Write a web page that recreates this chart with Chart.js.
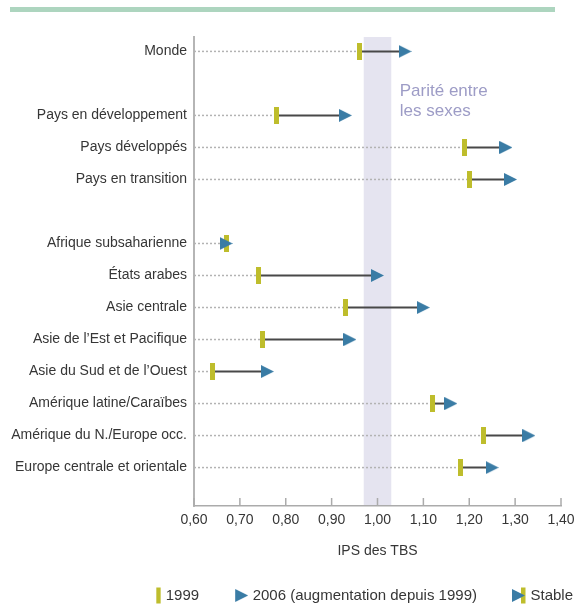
<!DOCTYPE html>
<html lang="fr">
<head>
<meta charset="utf-8">
<script src="https://cdn.jsdelivr.net/npm/chart.js@4.4.1/dist/chart.umd.min.js"></script>
<style>
  html, body { margin: 0; padding: 0; background: #fff; }
  #wrap { width: 576px; height: 606px; }
</style>
</head>
<body>
<div id="wrap"><canvas id="chart" width="576" height="606"></canvas></div>
<script>
// Rows of the chart (empty strings are spacer rows between the groups)
const regions = [
  'Monde', '',
  'Pays en développement', 'Pays développés', 'Pays en transition', '',
  'Afrique subsaharienne', 'États arabes', 'Asie centrale',
  'Asie de l’Est et Pacifique', 'Asie du Sud et de l’Ouest',
  'Amérique latine/Caraïbes', 'Amérique du N./Europe occ.',
  'Europe centrale et orientale'
];
// Gender parity index of gross enrolment ratios
const gpi1999 = [0.96, null, 0.78, 1.19, 1.20, null, 0.67, 0.74, 0.93, 0.75, 0.64, 1.12, 1.23, 1.18];
const gpi2006 = [1.06, null, 0.93, 1.28, 1.29, null, 0.67, 1.00, 1.10, 0.94, 0.76, 1.16, 1.33, 1.25];
const xTicks = [0.60, 0.70, 0.80, 0.90, 1.00, 1.10, 1.20, 1.30, 1.40];
const parityBand = [0.97, 1.03];
const parityText = ['Parité entre', 'les sexes'];
const legendLabels = ['1999', '2006 (augmentation depuis 1999)', 'Stable'];
const axisTitle = 'IPS des TBS';

const FONT = "'Liberation Sans', Arial, sans-serif";
const OLIVE = '#bebd2c';
const BLUE = '#3a7ca5';
const INK = '#363636';
const AXIS = '#ababab';

function makeIcon(w, h, paint) {
  const c = document.createElement('canvas');
  c.width = w; c.height = h;
  paint(c.getContext('2d'));
  return c;
}
function paintArrow(g, x, y, w, h) {
  g.fillStyle = BLUE;
  g.beginPath();
  g.moveTo(x, y); g.lineTo(x + w, y + h / 2); g.lineTo(x, y + h);
  g.closePath(); g.fill();
}
// Point markers
const barMark = makeIcon(5, 17, g => { g.fillStyle = OLIVE; g.fillRect(0, 0, 5, 17); });
const arrowMark = makeIcon(13, 13, g => paintArrow(g, 0, 0, 13, 13));
// Legend symbols: glyph sits at the right end of a wide transparent strip
const LW = 49;
const legendIcons = [
  makeIcon(LW, 17, g => { g.fillStyle = OLIVE; g.fillRect(LW - 5, 0.5, 4.5, 16); }),
  makeIcon(LW, 17, g => paintArrow(g, LW - 13, 2, 13, 13)),
  makeIcon(LW, 17, g => { g.fillStyle = OLIVE; g.fillRect(LW - 5, 0.5, 4.5, 16); paintArrow(g, LW - 14, 2, 13, 13); })
];

const toPoints = vals => vals
  .map((v, i) => (v === null ? null : { x: v, y: i }))
  .filter(Boolean);

// Parity band, row guides and decorative top rule
const guides = {
  id: 'guides',
  beforeDraw(chart) {
    const { ctx, chartArea: a, scales: { x } } = chart;
    ctx.save();
    ctx.fillStyle = '#add5bf';
    ctx.fillRect(10, 7, 545, 5);
    const x0 = x.getPixelForValue(parityBand[0]);
    const x1 = x.getPixelForValue(parityBand[1]);
    ctx.fillStyle = '#e5e4f0';
    ctx.fillRect(x0, a.top, x1 - x0, a.bottom - a.top);
    ctx.fillStyle = '#9d9cc6';
    ctx.font = `17px ${FONT}`;
    ctx.textBaseline = 'alphabetic';
    ctx.textAlign = 'left';
    parityText.forEach((t, i) => ctx.fillText(t, x1 + 8.5, a.top + 59 + i * 20));
    ctx.restore();
  },
  beforeDatasetsDraw(chart) {
    const { ctx, chartArea: a, scales: { x, y } } = chart;
    ctx.save();
    regions.forEach((r, i) => {
      if (gpi1999[i] === null) return;
      const yy = y.getPixelForValue(i);
      const xa = x.getPixelForValue(gpi1999[i]);
      const xb = x.getPixelForValue(gpi2006[i]);
      ctx.setLineDash([2, 2]);
      ctx.strokeStyle = '#b3b3b3';
      ctx.lineWidth = 1.5;
      ctx.beginPath(); ctx.moveTo(a.left, yy); ctx.lineTo(xa, yy); ctx.stroke();
      ctx.setLineDash([]);
      ctx.strokeStyle = '#484848';
      ctx.lineWidth = 2;
      ctx.beginPath(); ctx.moveTo(xa, yy); ctx.lineTo(xb, yy); ctx.stroke();
    });
    ctx.restore();
  },
  afterDraw(chart) {
    // tick marks standing up from the horizontal axis
    const { ctx, chartArea: a, scales: { x } } = chart;
    ctx.save();
    ctx.strokeStyle = AXIS;
    ctx.lineWidth = 1.5;
    xTicks.forEach(v => {
      const px = x.getPixelForValue(v);
      ctx.beginPath(); ctx.moveTo(px, a.bottom); ctx.lineTo(px, a.bottom - 8); ctx.stroke();
    });
    ctx.restore();
  }
};

new Chart(document.getElementById('chart'), {
  type: 'scatter',
  data: {
    datasets: [
      { label: legendLabels[1], data: toPoints(gpi2006), pointStyle: arrowMark, pointRadius: 6, order: 0 },
      { label: legendLabels[0], data: toPoints(gpi1999), pointStyle: barMark, pointRadius: 6, order: 1 }
    ]
  },
  options: {
    responsive: false,
    animation: false,
    events: [],
    layout: { padding: { top: 37, right: 0, bottom: -7, left: 0 } },
    scales: {
      x: {
        type: 'linear',
        min: 0.6,
        max: 1.4,
        afterBuildTicks: s => { s.ticks = xTicks.map(v => ({ value: v })); },
        afterFit: s => { s.height = 79; s.paddingRight = 15; },
        ticks: {
          autoSkip: false, maxRotation: 0, padding: 6, color: INK,
          font: { family: FONT, size: 14 },
          callback: v => Number(v).toFixed(2).replace('.', ',')
        },
        grid: { display: false, drawTicks: false, tickLength: 0 },
        border: { display: true, color: AXIS, width: 1.5 },
        title: {
          display: true, text: axisTitle, color: INK,
          font: { family: FONT, size: 14 },
          padding: { top: 0, bottom: 25 }
        }
      },
      y: {
        type: 'linear',
        reverse: true,
        min: -0.45,
        max: 14.2,
        afterBuildTicks: s => {
          s.ticks = regions.map((r, i) => (r ? { value: i } : null)).filter(Boolean);
        },
        afterFit: s => { s.width = 194; },
        ticks: {
          autoSkip: false, padding: 7, color: INK,
          font: { family: FONT, size: 14 },
          callback: v => regions[v]
        },
        grid: { display: false, drawTicks: false, tickLength: 0 },
        border: { display: true, color: '#b5b5b5', width: 2 }
      }
    },
    plugins: {
      tooltip: { enabled: false },
      legend: {
        position: 'bottom',
        align: 'end',
        labels: {
          usePointStyle: true,
          pointStyleWidth: 43,
          boxHeight: 17,
          padding: 3,
          color: INK,
          font: { family: FONT, size: 15 },
          generateLabels: () => legendLabels.map((t, i) => ({
            text: t,
            pointStyle: legendIcons[i],
            fillStyle: 'transparent',
            strokeStyle: 'transparent',
            lineWidth: 0,
            fontColor: INK,
            hidden: false
          }))
        }
      }
    }
  },
  plugins: [guides]
});
</script>
</body>
</html>
